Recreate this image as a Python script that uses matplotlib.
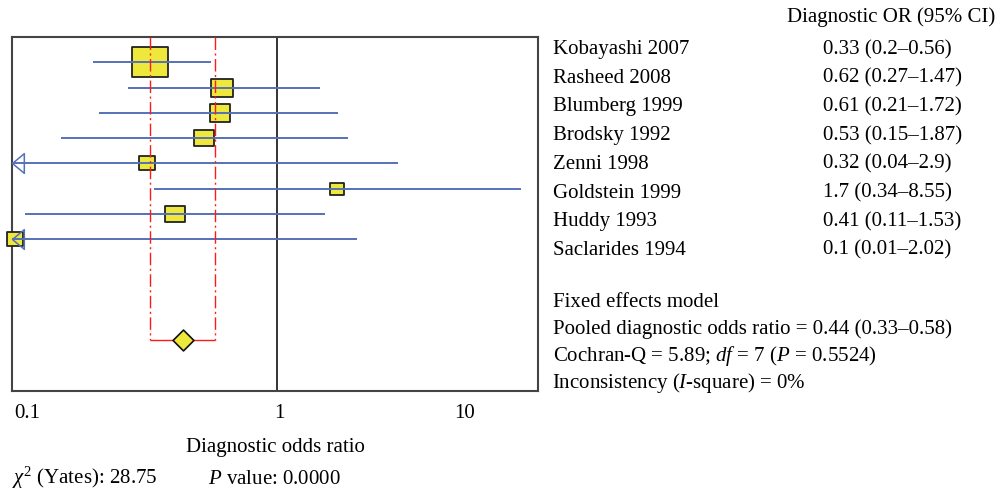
import matplotlib
matplotlib.use('Agg')
import matplotlib.pyplot as plt
from matplotlib.path import Path
import numpy as np

# ---------------- data ----------------
studies = ['Kobayashi 2007', 'Rasheed 2008', 'Blumberg 1999', 'Brodsky 1992',
           'Zenni 1998', 'Goldstein 1999', 'Huddy 1993', 'Saclarides 1994']
odds = [0.33, 0.62, 0.61, 0.53, 0.32, 1.7, 0.41, 0.1]
lower = [0.2, 0.27, 0.21, 0.15, 0.04, 0.34, 0.11, 0.01]
upper = [0.56, 1.47, 1.72, 1.87, 2.9, 8.55, 1.53, 2.02]
weights = [34.9, 13.5, 11.5, 9.8, 6.7, 5.9, 9.8, 7.7]   # relative weight (%)
or_text = ['0.33 (0.2–0.56)', '0.62 (0.27–1.47)', '0.61 (0.21–1.72)',
           '0.53 (0.15–1.87)', '0.32 (0.04–2.9)', '1.7 (0.34–8.55)',
           '0.41 (0.11–1.53)', '0.1 (0.01–2.02)']
pooled = 0.44
pooled_lo = 0.33
pooled_hi = 0.58
x_tick_labels = ['0.1', '1', '10']
summary_lines = ['Fixed effects model',
                 'Pooled diagnostic odds ratio = 0.44 (0.33–0.58)',
                 r'Cochran-Q = 5.89; $df$ = 7 ($P$ = 0.5524)',
                 r'Inconsistency ($I$-square) = 0%']
chi_text = r'$\chi^2$ (Yates): 28.75'
p_text = r'$P$ value: 0.0000'

# ---------------- style ----------------
plt.rcParams['font.family'] = ['Liberation Serif', 'DejaVu Serif']
plt.rcParams['mathtext.fontset'] = 'custom'
plt.rcParams['mathtext.rm'] = 'Liberation Serif'
plt.rcParams['mathtext.it'] = 'Liberation Serif:italic'
FS = 15.0
YELLOW = '#EEE83C'
BLUE = '#5571B8'
RED = '#FF1A1A'

W, H = 1001, 494
fig = plt.figure(figsize=(W / 100, H / 100), dpi=100)


def fx(px):
    return px / W


def fy(py):
    return 1 - py / H


ax_l, ax_r, ax_t, ax_b = 12, 538, 37, 391
ax = fig.add_axes([fx(ax_l), fy(ax_b), (ax_r - ax_l) / W, (ax_b - ax_t) / H])
ax.set_xscale('log')
one_px, px_dec = 276.5, 262.0
xmin = 10 ** ((ax_l - one_px) / px_dec)
xmax = 10 ** ((ax_r - one_px) / px_dec)
ax.set_xlim(xmin, xmax)
ax.set_ylim(13, -1)
ax.set_xticks([])
ax.xaxis.set_minor_locator(matplotlib.ticker.NullLocator())
ax.set_yticks([])
for s in ax.spines.values():
    s.set_color('#444444')
    s.set_linewidth(1.5)

rect_marker = Path([(-0.6, -0.5), (0.6, -0.5), (0.6, 0.5), (-0.6, 0.5), (-0.6, -0.5)],
                   [Path.MOVETO, Path.LINETO, Path.LINETO, Path.LINETO, Path.CLOSEPOLY])
diamond_marker = Path([(0, 0.5), (0.5, 0), (0, -0.5), (-0.5, 0), (0, 0.5)],
                      [Path.MOVETO, Path.LINETO, Path.LINETO, Path.LINETO, Path.CLOSEPOLY])
tri_marker = Path([(0, 0), (0.6, 0.5), (0.6, -0.5), (0, 0)],
                  [Path.MOVETO, Path.LINETO, Path.LINETO, Path.CLOSEPOLY])

ax.axvline(1, color='#333333', lw=1.4, zorder=2)

rows = np.arange(len(studies))
for i in rows:
    ms = 6.09 * np.sqrt(weights[i]) / 1.389
    ax.plot(odds[i], i, marker=rect_marker, ms=ms, mfc=YELLOW, mec='#222222',
            mew=1.3, ls='none', zorder=3, clip_on=False)
    lo = max(lower[i], xmin)
    ax.hlines(i, lo, upper[i], color=BLUE, lw=1.4, zorder=4)
    if lower[i] < xmin:
        ax.plot(xmin, i, marker=tri_marker, ms=17, mfc='none', mec=BLUE,
                mew=1.1, ls='none', zorder=5, clip_on=False)

diamond_y = 11
ax.vlines([pooled_lo, pooled_hi], -1, diamond_y, color=RED, lw=1.0,
          linestyles=[(0, (9, 2.5, 1.5, 2.5))], zorder=5)
ax.hlines(diamond_y, pooled_lo, pooled_hi, color=RED, lw=1.0, zorder=5)
ax.plot(pooled, diamond_y, marker=diamond_marker, ms=15, mfc=YELLOW, mec='#111111',
        mew=1.2, ls='none', zorder=6)

# tick labels and axis label
for lab, px in zip(x_tick_labels, [27, 279, 465]):
    fig.text(fx(px), fy(418), lab, ha='center', va='baseline', fontsize=FS)
fig.text(fx(275), fy(451.5), 'Diagnostic odds ratio', ha='center', va='baseline', fontsize=FS)
fig.text(fx(12), fy(484), chi_text, ha='left', va='baseline', fontsize=FS)
fig.text(fx(208), fy(484), p_text, ha='left', va='baseline', fontsize=FS)

# right-hand table
fig.text(fx(787), fy(21.7), 'Diagnostic OR (95% CI)', ha='left', va='baseline', fontsize=FS)
for i in rows:
    yb = 54 + 28.7 * i
    fig.text(fx(553), fy(yb), studies[i], ha='left', va='baseline', fontsize=FS)
    fig.text(fx(823), fy(yb), or_text[i], ha='left', va='baseline', fontsize=FS)
for j, line in enumerate(summary_lines):
    yb = [306.7, 333.5, 361.5, 387.5][j]
    xl = 552 if j == 3 else 553
    fig.text(fx(xl), fy(yb), line, ha='left', va='baseline', fontsize=FS)

fig.save_path = None
fig.savefig('out.png', dpi=100)
